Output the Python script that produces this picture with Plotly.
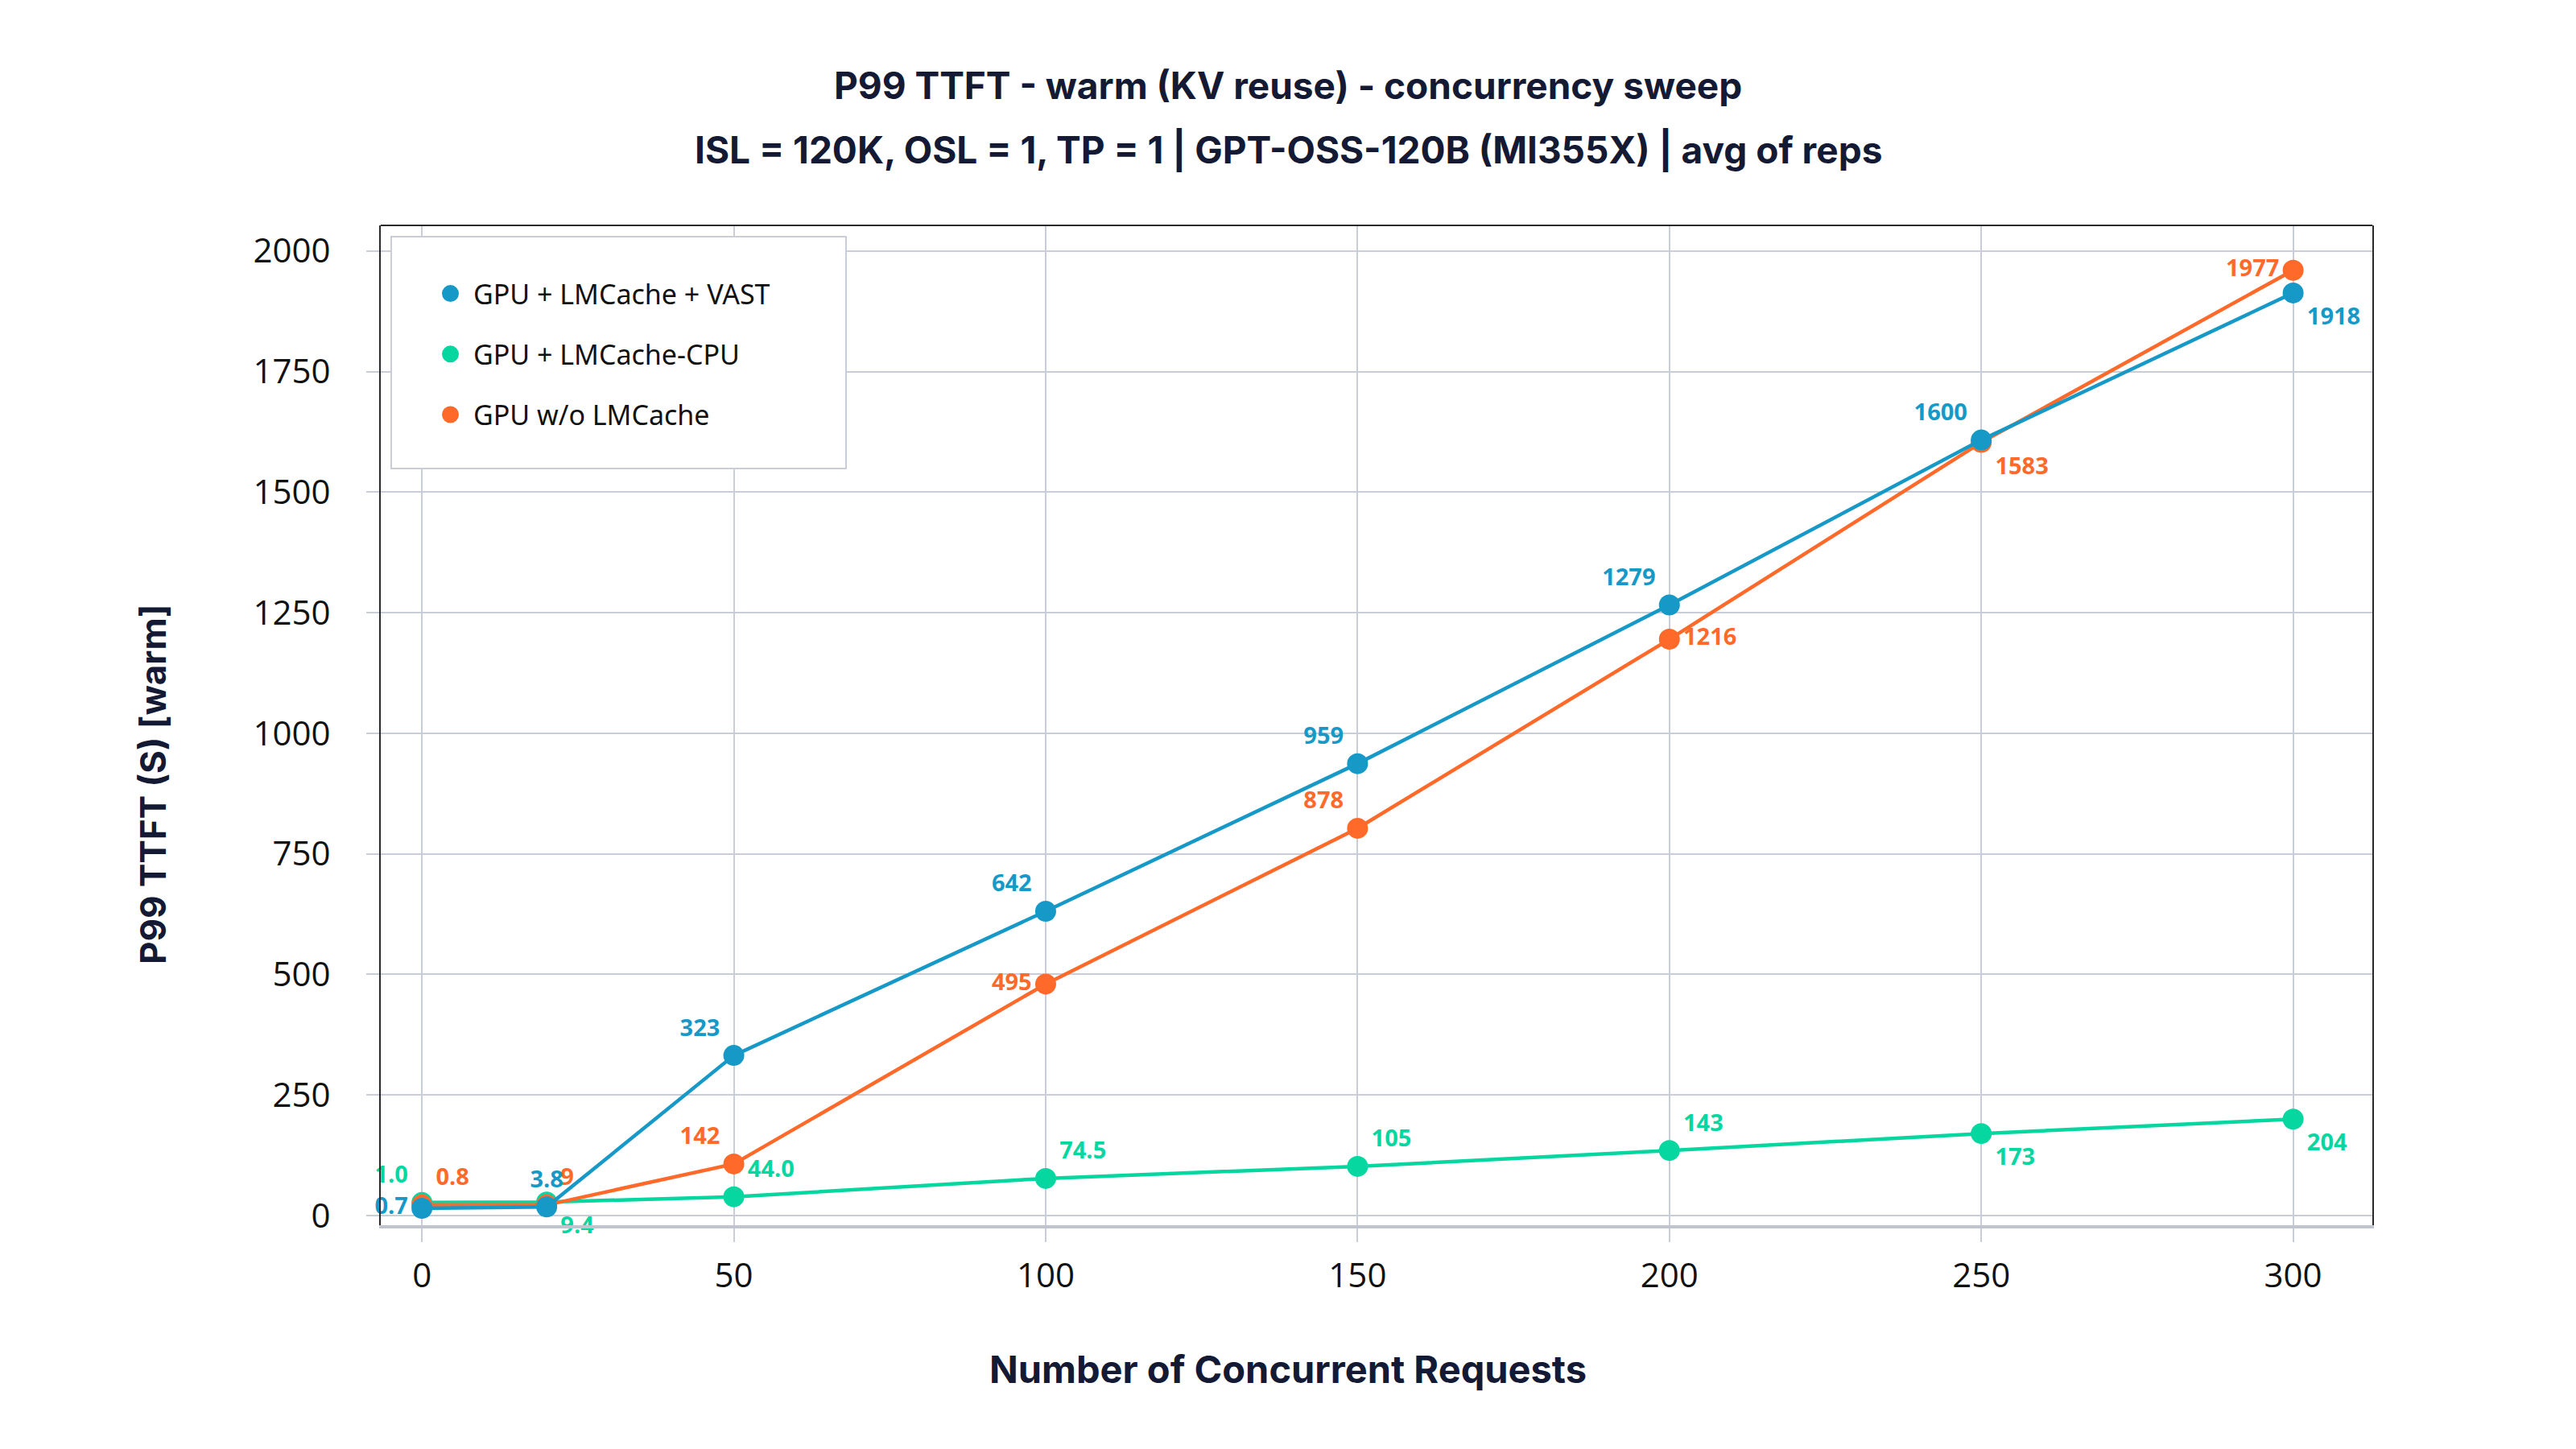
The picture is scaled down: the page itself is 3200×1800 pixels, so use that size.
import plotly.graph_objects as go

# ---------------- data ----------------
concurrency = [0, 20, 50, 100, 150, 200, 250, 300]

vast_values = [15, 18, 332, 631, 937, 1266, 1608, 1913]
cpu_values = [27, 28, 39, 77, 102, 135, 170, 200]
nocache_values = [22, 22, 107, 480, 803, 1195, 1603, 1960]

vast_labels = ["0.7", "3.8", "323", "642", "959", "1279", "1600", "1918"]
cpu_labels = ["1.0", "9.4", "44.0", "74.5", "105", "143", "173", "204"]
nocache_labels = ["0.8", "9", "142", "495", "878", "1216", "1583", "1977"]

series_names = ["GPU + LMCache + VAST", "GPU + LMCache-CPU", "GPU w/o LMCache"]

x_ticks = [0, 50, 100, 150, 200, 250, 300]
y_ticks = [0, 250, 500, 750, 1000, 1250, 1500, 1750, 2000]

title_line1 = "P99 TTFT - warm (KV reuse) - concurrency sweep"
title_line2 = "ISL = 120K, OSL = 1, TP = 1 | GPT-OSS-120B (MI355X) | avg of reps"
x_title = "Number of Concurrent Requests"
y_title = "P99 TTFT (S) [warm]"

# ---------------- style ----------------
BLUE = "#1799c7"
GREEN = "#06d6a0"
ORANGE = "#ff6a2b"
GRID = "#c9cdd8"
NAVY = "#141a33"
TITLE_FONT = "Inter"
TICK_FONT = "Open Sans"

vast_pos = ["middle left", "top center", "top left", "top left", "top left", "top left", "top left", "bottom right"]
cpu_pos = ["top left", "bottom right", "top right", "top right", "top right", "top right", "bottom right", "bottom right"]
nocache_pos = ["top right", "top right", "top left", "middle left", "top left", "middle right", "bottom right", "middle left"]

fig = go.Figure()

def add_series(y, labels, positions, color, name):
    fig.add_trace(go.Scatter(
        x=concurrency, y=y, mode="lines+markers+text",
        name=name, showlegend=False,
        line=dict(color=color, width=4.5),
        marker=dict(color=color, size=26),
        text=labels, textposition=positions,
        textfont=dict(family=TICK_FONT, size=29, color=color, weight="bold"),
        cliponaxis=False,
    ))

add_series(cpu_values, cpu_labels, cpu_pos, GREEN, series_names[1])
add_series(nocache_values, nocache_labels, nocache_pos, ORANGE, series_names[2])
add_series(vast_values, vast_labels, vast_pos, BLUE, series_names[0])

# legend entries (marker only)
for name, color, grp in [(series_names[0], BLUE, "a"), (series_names[1], GREEN, "b"), (series_names[2], ORANGE, "c")]:
    fig.add_trace(go.Scatter(
        x=[None], y=[None], mode="markers", name=name, legendgroup=grp,
        marker=dict(color=color, size=16, line=dict(color=color, width=5)),
        showlegend=True,
    ))

W, H = 3200, 1800
L, R, T, B = 473, 253, 280, 278
PW, PH = W - L - R, H - T - B

def px(xp):
    return (xp - L) / PW

def py(yp):
    return (H - B - yp) / PH

fig.update_layout(
    width=W, height=H,
    margin=dict(l=L, r=R, t=T, b=B, autoexpand=False),
    paper_bgcolor="white", plot_bgcolor="white",
    showlegend=True,
    legend=dict(
        x=px(531), y=py(336), xanchor="left", yanchor="top",
        bgcolor="rgba(0,0,0,0)", borderwidth=0,
        font=dict(family="Noto Sans", size=34, color="#111111"),
        tracegroupgap=28, traceorder="grouped",
        itemsizing="trace", itemwidth=47,
    ),
    annotations=[
        dict(text="<b>" + title_line1 + "</b>", xref="paper", yref="paper",
             x=px(1600), y=py(106), yanchor="middle", xanchor="center", showarrow=False,
             font=dict(family=TITLE_FONT, size=46, color=NAVY)),
        dict(text="<b>" + title_line2 + "</b>", xref="paper", yref="paper",
             x=px(1600), y=py(186), yanchor="middle", xanchor="center", showarrow=False,
             font=dict(family=TITLE_FONT, size=46, color=NAVY)),
        dict(text="<b>" + x_title + "</b>", xref="paper", yref="paper",
             x=px(1600), y=py(1700), yanchor="middle", xanchor="center", showarrow=False,
             font=dict(family=TITLE_FONT, size=47, color=NAVY)),
        dict(text="<b>" + y_title + "</b>", xref="paper", yref="paper",
             x=px(190), y=py(975), yanchor="middle", xanchor="center", showarrow=False,
             textangle=-90,
             font=dict(family=TITLE_FONT, size=44, color=NAVY)),
    ],
    shapes=[
        dict(type="line", xref="paper", yref="paper", x0=0, x1=1, y0=1, y1=1,
             line=dict(color="#2a2a2a", width=2)),
        dict(type="rect", xref="paper", yref="paper", layer="above",
             x0=px(486), x1=px(1051), y0=py(582), y1=py(294),
             fillcolor="white", line=dict(color=GRID, width=2)),
    ],
)

fig.update_xaxes(
    range=[-6.6, 312.7], tickvals=x_ticks,
    showgrid=True, gridcolor=GRID, gridwidth=2, zeroline=False,
    ticks="outside", ticklen=17, tickwidth=2, tickcolor=GRID,
    showline=True, linecolor="#c0c4cf", linewidth=4, mirror=False,
    tickfont=dict(family=TICK_FONT, size=42, color="#111111"),
    ticklabelstandoff=6,
)
fig.update_yaxes(
    range=[-20, 2053], tickvals=y_ticks,
    showgrid=True, gridcolor=GRID, gridwidth=2, zeroline=False,
    ticks="outside", ticklen=16, tickwidth=2, tickcolor=GRID,
    showline=True, linecolor="#2a2a2a", linewidth=2, mirror=True,
    tickfont=dict(family=TICK_FONT, size=42, color="#111111"),
    ticklabelstandoff=36,
)

fig.write_html("out.html")
